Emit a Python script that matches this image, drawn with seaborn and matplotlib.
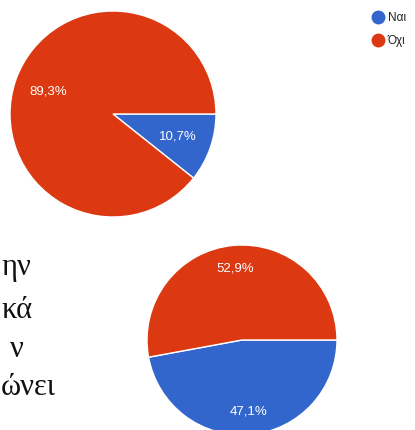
import matplotlib
matplotlib.use("Agg")
import matplotlib.pyplot as plt
from matplotlib.lines import Line2D
import seaborn as sns

# Data
labels = ["Ναι", "Όχι"]
top_values = [10.7, 89.3]
bottom_values = [47.1, 52.9]
colors = ["#3366CC", "#DC3912"]

# cropped question text on the left (only the line endings are visible)
side_lines = ["ην", "κά", "ν", "ώνει"]

sns.set_theme(style="white")
plt.rcParams["font.family"] = ["Liberation Sans", "DejaVu Sans"]

W, H = 415, 430
fig = plt.figure(figsize=(W / 100, H / 100), dpi=100)
fig.patch.set_facecolor("white")


def pie_axes(cx, cy, r):
    # cx, cy, r in pixels measured from top-left
    return fig.add_axes([(cx - r) / W, (H - cy - r) / H, 2 * r / W, 2 * r / H])


def draw_pie(ax, values, pctdist):
    wedges, texts, autotexts = ax.pie(
        values, colors=colors, startangle=0, counterclock=False,
        autopct=lambda p: f"{p:.1f}%".replace(".", ","),
        pctdistance=pctdist, radius=1,
        wedgeprops=dict(edgecolor="white", linewidth=1),
        textprops=dict(color="white", fontsize=9.5),
    )
    ax.set_xlim(-1, 1)
    ax.set_ylim(-1, 1)
    ax.set_aspect("equal")
    ax.axis("off")
    return wedges


ax1 = pie_axes(113, 114, 103)
draw_pie(ax1, top_values, 0.67)

ax2 = pie_axes(242, 340, 95)
draw_pie(ax2, bottom_values, 0.76)

# legend
handles = [Line2D([0], [0], marker="o", linestyle="", markersize=9,
                  markerfacecolor=c, markeredgecolor=c) for c in colors]
fig.legend(handles, labels, loc="upper left",
           bbox_to_anchor=(366 / W, 1 - 6 / H), frameon=False,
           fontsize=8.5, handlelength=1.0, handletextpad=0.35,
           labelspacing=0.95, borderpad=0, labelcolor="#222222")

# left side text in a serif font
baselines = [275, 318, 357, 395]
xoffs = [1, 1, 10, 1]
for txt, yb, xo in zip(side_lines, baselines, xoffs):
    fig.text(xo / W, 1 - yb / H, txt, fontsize=22, color="#111111",
             family=["Liberation Serif", "DejaVu Serif"], va="baseline", ha="left")

fig.savefig("out.png", dpi=100, facecolor="white")
